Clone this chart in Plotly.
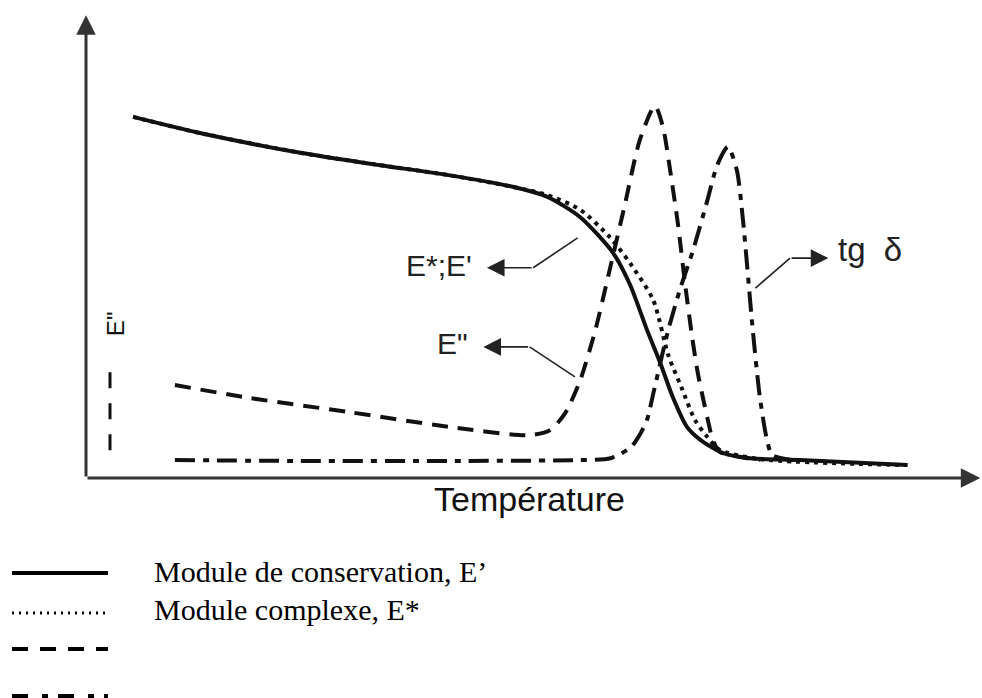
import plotly.graph_objects as go

# Curves of a dynamic mechanical analysis (arbitrary units)
# Storage modulus E'
t_storage = [5.3, 12.8, 24.1, 33.1, 40.6, 48.0, 51.9, 55.6, 59.3, 61.2, 63.1, 64.6,
             66.0, 67.6, 69.1, 71.7, 74.7, 80.3, 92.4]
e_storage = [78.5, 75.0, 70.7, 68.0, 65.9, 63.3, 61.1, 56.7, 48.9, 42.0, 32.2, 25.0,
             17.6, 11.1, 8.3, 5.4, 4.3, 3.9, 2.8]

# Complex modulus E*
t_complex = [5.3, 12.8, 24.1, 33.1, 40.6, 48.0, 51.9, 55.6, 58.9, 61.2, 63.8, 65.5,
             67.0, 68.5, 69.9, 71.3, 75.8, 92.4]
e_complex = [78.5, 75.0, 70.7, 68.0, 65.9, 63.3, 61.5, 58.3, 52.4, 46.7, 38.7, 26.7,
             19.6, 12.6, 8.9, 6.1, 4.1, 2.8]

# Loss modulus E''
t_loss = [10.0, 18.4, 29.7, 40.9, 49.9, 52.2, 53.9, 55.6, 57.3, 58.9, 60.6, 62.3,
          64.0, 64.9, 65.7, 66.6, 67.4, 68.2, 68.8, 69.4, 69.95, 70.5, 71.3, 75.8]
e_loss = [20.2, 17.4, 14.3, 11.1, 9.3, 10.4, 14.1, 21.3, 32.2, 45.2, 59.3, 73.5,
          80.9, 76.3, 67.0, 55.0, 42.0, 30.4, 23.0, 17.4, 12.6, 8.3, 5.7, 3.9]

# Loss factor tg delta
t_tan = [10.0, 24.1, 40.9, 55.6, 59.0, 61.3, 62.4, 63.1, 63.9, 65.4, 66.8, 68.3,
         69.9, 71.0, 72.2, 73.2, 73.9, 75.0, 75.8, 76.6, 77.2, 80.3]
tan_delta = [3.9, 3.7, 3.7, 3.9, 4.3, 6.7, 9.8, 12.6, 19.1, 31.5, 40.9, 49.6,
             60.4, 68.0, 72.0, 67.0, 56.1, 32.2, 17.6, 8.3, 5.0, 3.7]

legend_labels = ["Module de conservation, E’", "Module complexe, E*", "", ""]

INK = "#111111"
AXIS = "#333333"
SMOOTH = 0.7

fig = go.Figure()
fig.add_trace(go.Scatter(x=t_complex, y=e_complex, mode="lines",
                         line=dict(color=INK, width=4, dash="4px,5px", shape="spline",
                                   smoothing=SMOOTH),
                         hoverinfo="skip"))
fig.add_trace(go.Scatter(x=t_loss, y=e_loss, mode="lines",
                         line=dict(color=INK, width=4, dash="16px,10px", shape="spline",
                                   smoothing=SMOOTH),
                         hoverinfo="skip"))
fig.add_trace(go.Scatter(x=t_tan, y=tan_delta, mode="lines",
                         line=dict(color=INK, width=4, dash="20px,8px,6px,8px", shape="spline",
                                   smoothing=SMOOTH),
                         hoverinfo="skip"))
fig.add_trace(go.Scatter(x=t_storage, y=e_storage, mode="lines",
                         line=dict(color=INK, width=4, shape="spline", smoothing=SMOOTH),
                         hoverinfo="skip"))

annotations = []
shapes = []

# axes drawn as arrows
annotations.append(dict(x=100.6, y=0, ax=0, ay=0, xref="x", yref="y", axref="x", ayref="y",
                        text="", showarrow=True, arrowhead=2, arrowsize=1.3, arrowwidth=3,
                        arrowcolor=AXIS, standoff=0, startstandoff=0))
annotations.append(dict(x=0, y=100.6, ax=0, ay=0, xref="x", yref="y", axref="x", ayref="y",
                        text="", showarrow=True, arrowhead=2, arrowsize=1.3, arrowwidth=3,
                        arrowcolor=AXIS, standoff=0, startstandoff=0))

# callouts: bent leader line ending in an arrow pointing at the label
callouts = [
    ("E*;E'", (55.3, 52.2), (50.3, 45.7), 45.1, 43.6, 46.3, "right", 30),
    ("E\"", (55.0, 22.0), (49.9, 28.5), 44.7, 43.2, 29.3, "right", 30),
    ("tg\u00a0\u00a0δ", (75.3, 41.3), (79.2, 47.8), 83.5, 84.4, 49.6, "left", 33),
]
for text, p0, p1, tip_x, tx, ty, anchor, size in callouts:
    shapes.append(dict(type="line", xref="x", yref="y", x0=p0[0], y0=p0[1], x1=p1[0], y1=p1[1],
                       line=dict(color="#222222", width=1.6)))
    annotations.append(dict(x=tip_x, y=p1[1], ax=p1[0], ay=p1[1], xref="x", yref="y",
                            axref="x", ayref="y", text="", showarrow=True, arrowhead=2,
                            arrowsize=2.2, arrowwidth=1.6, arrowcolor="#222222",
                            standoff=0, startstandoff=0))
    annotations.append(dict(x=tx, y=ty, xref="x", yref="y", text=text, showarrow=False,
                            xanchor=anchor, yanchor="middle",
                            font=dict(family="Liberation Sans, Arial", size=size,
                                      color="#222222")))

# axis titles
annotations.append(dict(x=0.4994, y=-0.046, xref="paper", yref="paper", text="Température",
                        showarrow=False, xanchor="center", yanchor="middle",
                        font=dict(family="Liberation Sans, Arial", size=34, color="#111111")))
annotations.append(dict(x=0.034, y=0.335, xref="paper", yref="paper", text="E\"",
                        textangle=-90, showarrow=False, xanchor="center", yanchor="middle",
                        font=dict(family="Liberation Sans, Arial", size=24, color="#111111")))
shapes.append(dict(type="line", xref="paper", yref="paper", x0=0.027, x1=0.027,
                   y0=0.230, y1=0.035, line=dict(color="#111111", width=3, dash="16px,15px")))

# legend key below the chart
key_styles = [
    dict(width=4, dash="solid"),
    dict(width=3, dash="2px,5px"),
    dict(width=4, dash="16px,12px"),
    dict(width=4, dash="16px,14px,6px,10px"),
]
key_rows = [-0.2065, -0.2935, -0.3717, -0.474]
text_rows = [-0.2043, -0.2848]
for ky, style in zip(key_rows, key_styles):
    shapes.append(dict(type="line", xref="paper", yref="paper", x0=-0.0832, x1=0.0247,
                       y0=ky, y1=ky, line=dict(color="#000000", **style)))
for ty, label in zip(text_rows, legend_labels):
    annotations.append(dict(x=0.0742, y=ty, xref="paper", yref="paper", text=label,
                            showarrow=False, xanchor="left", yanchor="middle",
                            font=dict(family="Liberation Serif, Times New Roman", size=30,
                                      color="#000000")))

fig.update_layout(
    width=982, height=698,
    margin=dict(l=86, r=7, t=18, b=220),
    paper_bgcolor="white", plot_bgcolor="white",
    showlegend=False,
    xaxis=dict(range=[0, 100], visible=False, fixedrange=True),
    yaxis=dict(range=[0, 100], visible=False, fixedrange=True),
    annotations=annotations,
    shapes=shapes,
)

fig.write_html("out.html", config=dict(displayModeBar=False))
